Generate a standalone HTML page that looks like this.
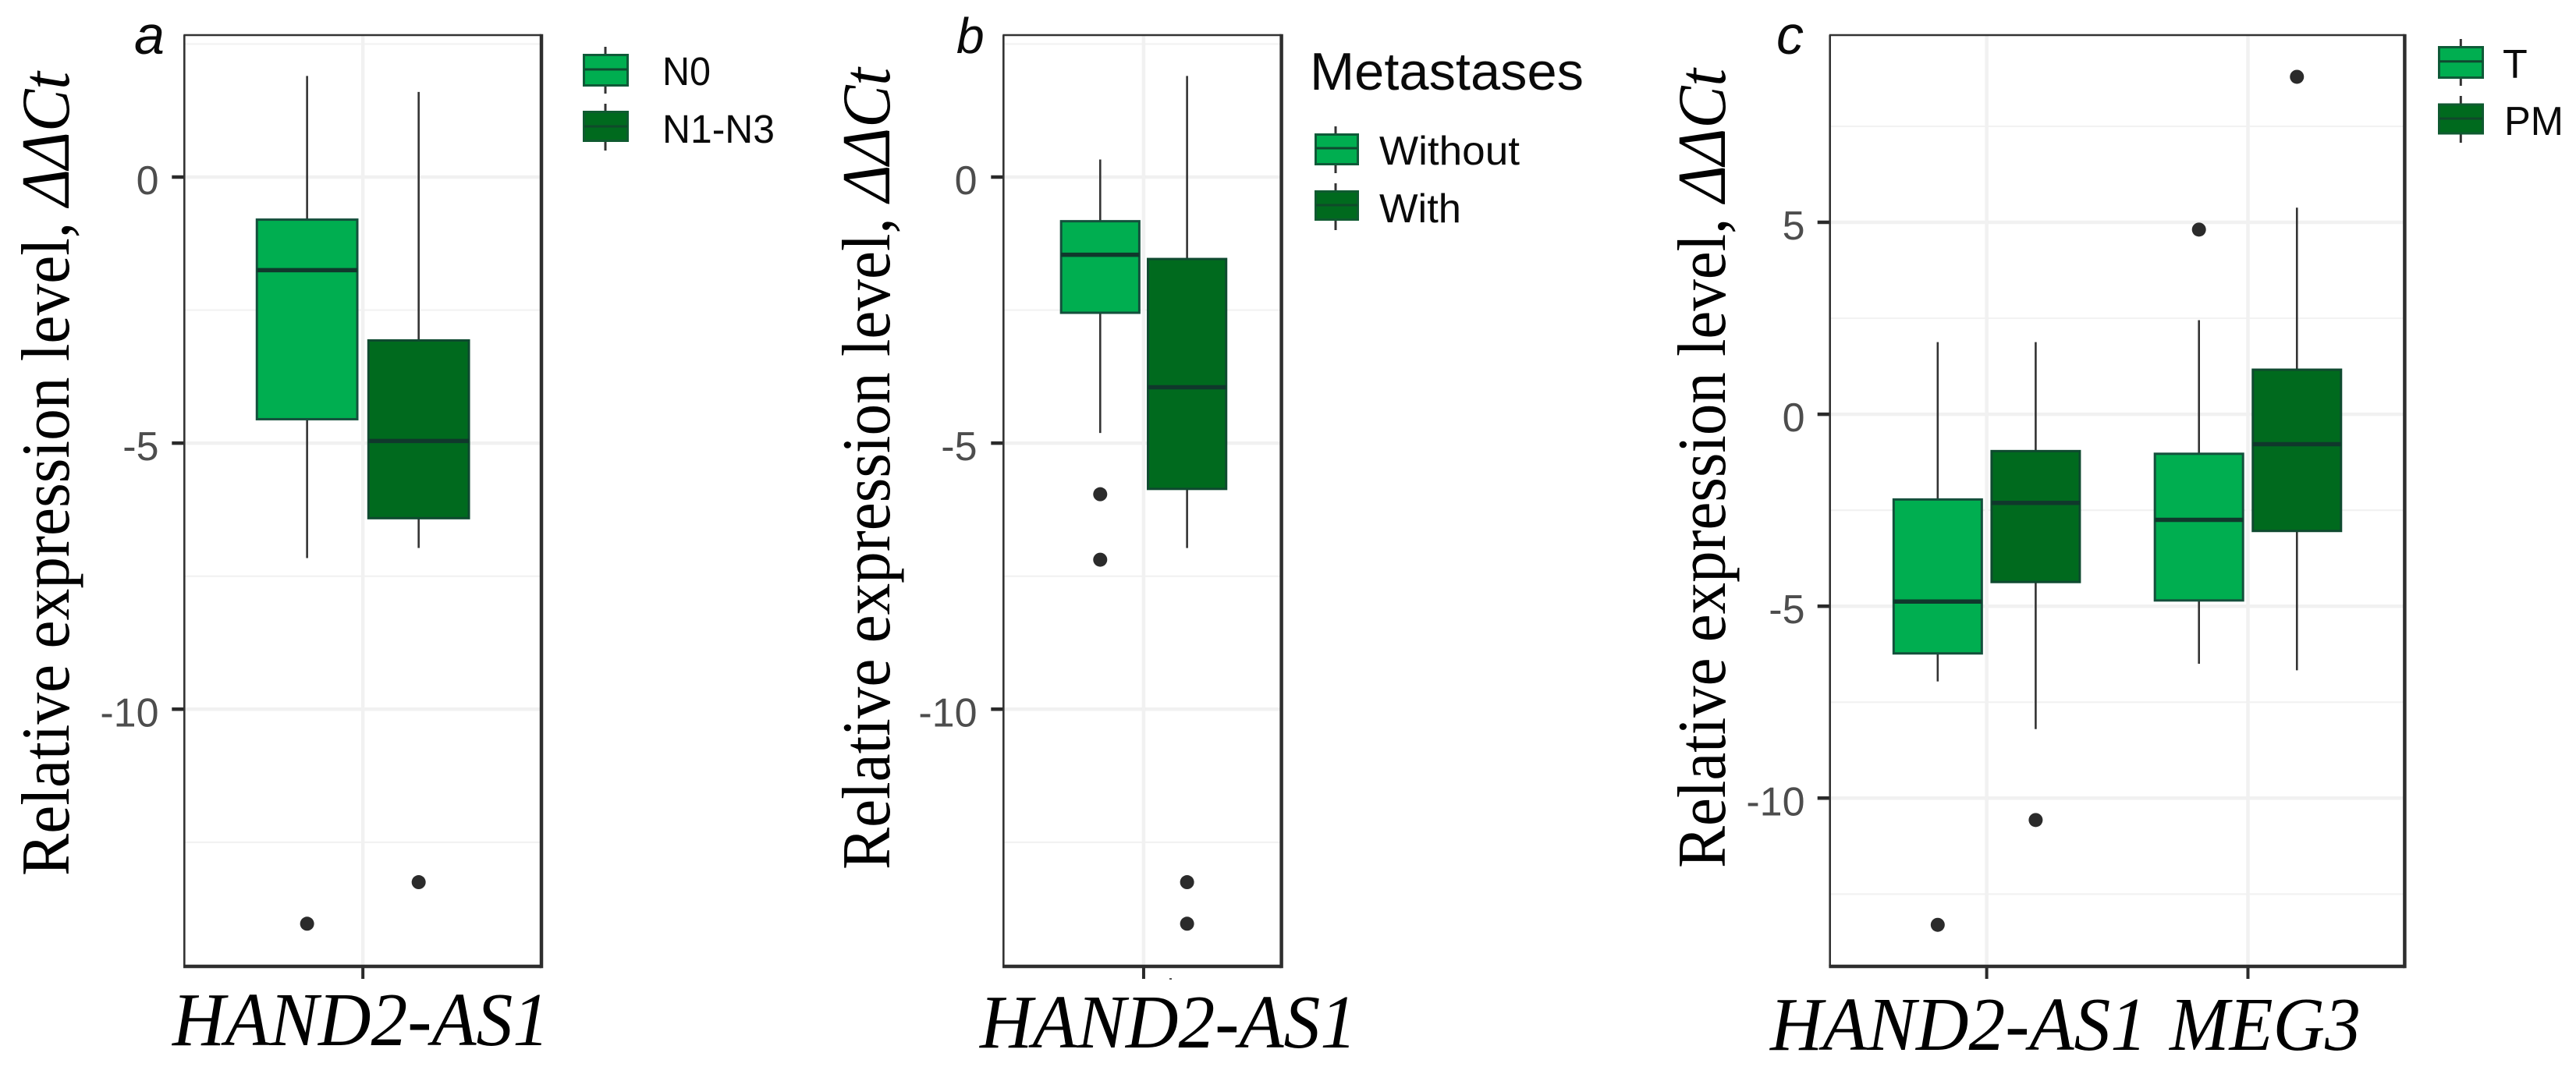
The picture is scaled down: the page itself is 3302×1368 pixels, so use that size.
<!DOCTYPE html>
<html lang="en">
<head>
<meta charset="utf-8">
<title>Relative expression level boxplots</title>
<style>
html,body{margin:0;padding:0;background:#fff;width:3302px;height:1368px;overflow:hidden}
svg{display:block}
.serif{font-family:"Liberation Serif",serif;fill:#000}
.sans{font-family:"Liberation Sans",sans-serif;fill:#0a0a0a}
</style>
</head>
<body>
<svg id="figure" xmlns="http://www.w3.org/2000/svg" width="3302" height="1368" viewBox="0 0 3302 1368">
  <rect x="0" y="0" width="3302" height="1368" fill="#fff"/>
  <g id="panels"></g>

  <text class="sans" font-style="italic" font-size="70" x="172" y="69">a</text>
  <text class="sans" font-style="italic" font-size="64" x="1226" y="68">b</text>
  <text class="sans" font-style="italic" font-size="70" x="2277" y="69">c</text>

  <text class="serif" font-size="88" transform="translate(88,1123) rotate(-90)" textLength="1031" lengthAdjust="spacingAndGlyphs">Relative expression level, <tspan font-style="italic">ΔΔCt</tspan></text>
  <text class="serif" font-size="88" transform="translate(1140,1115) rotate(-90)" textLength="1028" lengthAdjust="spacingAndGlyphs">Relative expression level, <tspan font-style="italic">ΔΔCt</tspan></text>
  <text class="serif" font-size="88" transform="translate(2211,1113) rotate(-90)" textLength="1025" lengthAdjust="spacingAndGlyphs">Relative expression level, <tspan font-style="italic">ΔΔCt</tspan></text>

  <text class="serif" font-style="italic" font-size="98" x="221" y="1340" textLength="483" lengthAdjust="spacingAndGlyphs">HAND2-AS1</text>
  <text class="serif" font-style="italic" font-size="98" x="1256" y="1343" textLength="483" lengthAdjust="spacingAndGlyphs">HAND2-AS1</text>
  <text class="serif" font-style="italic" font-size="98" x="2269" y="1346" textLength="483" lengthAdjust="spacingAndGlyphs">HAND2-AS1</text>
  <text class="serif" font-style="italic" font-size="98" x="2781" y="1346" textLength="245" lengthAdjust="spacingAndGlyphs">MEG3</text>

  <rect x="1499" y="1254" width="3" height="2" fill="#555"/>

  <g>
    <g>
      <line x1="776" x2="776" y1="60" y2="120" stroke="#333" stroke-width="3"/>
      <rect x="748.5" y="70.5" width="56" height="39" fill="#00ae50" stroke="#0f5a38" stroke-width="3"/>
      <line x1="749" x2="804" y1="89" y2="89" stroke="#0f4a30" stroke-width="3"/>
    </g>
    <text class="sans" font-size="51" x="849" y="109" textLength="62" lengthAdjust="spacingAndGlyphs">N0</text>
    <g>
      <line x1="776" x2="776" y1="133" y2="193" stroke="#333" stroke-width="3"/>
      <rect x="748.5" y="143.5" width="56" height="37" fill="#006a1e" stroke="#0f5a30" stroke-width="3"/>
      <line x1="749" x2="804" y1="162" y2="162" stroke="#0f4a2a" stroke-width="3"/>
    </g>
    <text class="sans" font-size="51" x="849" y="183" textLength="144" lengthAdjust="spacingAndGlyphs">N1-N3</text>
  </g>

  <g>
    <text class="sans" font-size="68" x="1679" y="115" textLength="351" lengthAdjust="spacingAndGlyphs">Metastases</text>
    <g>
      <line x1="1712" x2="1712" y1="162" y2="222" stroke="#333" stroke-width="3"/>
      <rect x="1686.5" y="172.5" width="54" height="38" fill="#00ae50" stroke="#0f5a38" stroke-width="3"/>
      <line x1="1687" x2="1740" y1="190" y2="190" stroke="#0f4a30" stroke-width="3"/>
    </g>
    <text class="sans" font-size="52" x="1768" y="211" textLength="180" lengthAdjust="spacingAndGlyphs">Without</text>
    <g>
      <line x1="1712" x2="1712" y1="235" y2="295" stroke="#333" stroke-width="3"/>
      <rect x="1686.5" y="245.5" width="54" height="36" fill="#006a1e" stroke="#0f5a30" stroke-width="3"/>
      <line x1="1687" x2="1740" y1="263" y2="263" stroke="#0f4a2a" stroke-width="3"/>
    </g>
    <text class="sans" font-size="52" x="1768" y="285" textLength="105" lengthAdjust="spacingAndGlyphs">With</text>
  </g>

  <g>
    <g>
      <line x1="3154.3" x2="3154.3" y1="50" y2="110" stroke="#333" stroke-width="3"/>
      <rect x="3126.5" y="60.5" width="56" height="39" fill="#00ae50" stroke="#0f5a38" stroke-width="3"/>
      <line x1="3127" x2="3182" y1="78.7" y2="78.7" stroke="#0f4a30" stroke-width="3"/>
    </g>
    <text class="sans" font-size="52" x="3208" y="100">T</text>
    <g>
      <line x1="3154.3" x2="3154.3" y1="123" y2="183" stroke="#333" stroke-width="3"/>
      <rect x="3126.5" y="134" width="56" height="37" fill="#006a1e" stroke="#0f5a30" stroke-width="3"/>
      <line x1="3127" x2="3182" y1="152" y2="152" stroke="#0f4a2a" stroke-width="3"/>
    </g>
    <text class="sans" font-size="52" x="3210" y="173" textLength="76" lengthAdjust="spacingAndGlyphs">PM</text>
  </g>
</svg>

<script>
// ---- Panel a data ----
const aCategories = ["HAND2-AS1"];
const aGroups = ["N0", "N1-N3"];
const aWhiskerHigh = [[1.9, 1.6]];
const aQ3 = [[-0.8, -3.07]];
const aMedian = [[-1.75, -4.96]];
const aQ1 = [[-4.55, -6.41]];
const aWhiskerLow = [[-7.16, -6.97]];
const aOutliers = [[[-14.03], [-13.25]]];
const aYTicks = [0, -5, -10];
const aYTickLabels = ["0", "-5", "-10"];
const aYMinor = [2.5, -2.5, -7.5, -12.5];

// ---- Panel b data ----
const bCategories = ["HAND2-AS1"];
const bGroups = ["Without", "With"];
const bWhiskerHigh = [[0.33, 1.9]];
const bQ3 = [[-0.83, -1.54]];
const bMedian = [[-1.46, -3.95]];
const bQ1 = [[-2.55, -5.86]];
const bWhiskerLow = [[-4.81, -6.97]];
const bOutliers = [[[-5.96, -7.19], [-13.25, -14.03]]];
const bYTicks = [0, -5, -10];
const bYTickLabels = ["0", "-5", "-10"];
const bYMinor = [2.5, -2.5, -7.5, -12.5];

// ---- Panel c data ----
const cCategories = ["HAND2-AS1", "MEG3"];
const cGroups = ["T", "PM"];
const cWhiskerHigh = [[1.88, 1.88], [2.45, 5.38]];
const cQ3 = [[-2.22, -0.96], [-1.03, 1.16]];
const cMedian = [[-4.88, -2.31], [-2.75, -0.78]];
const cQ1 = [[-6.23, -4.37], [-4.85, -3.04]];
const cWhiskerLow = [[-6.96, -8.2], [-6.5, -6.67]];
const cOutliers = [[[-13.3], [-10.57]], [[4.81], [8.79]]];
const cYTicks = [5, 0, -5, -10];
const cYTickLabels = ["5", "0", "-5", "-10"];
const cYMinor = [7.5, 2.5, -2.5, -7.5, -12.5];

const SVG_NS = "http://www.w3.org/2000/svg";
const groupFills = ["#00ae50", "#006a1e"];
const groupStrokes = ["#14503c", "#0f4a30"];

function mk(tag, attrs, parent) {
  const el = document.createElementNS(SVG_NS, tag);
  for (const k in attrs) el.setAttribute(k, attrs[k]);
  parent.appendChild(el);
  return el;
}

function drawPanel(id, geom, d) {
  const root = document.getElementById("panels");
  const g = mk("g", {}, root);
  
  

  // axis functions
  const yScale = v => geom.zeroY - geom.unitY * v;
  const unitX = (geom.right - geom.left) / (d.categories.length + 0.2);
  const xScale = pos => geom.left + (geom.centerShift || 0) + (pos + 0.6) * unitX;

  d.yMinor.forEach(v => {
    const ln = mk("line", {x1: geom.left, x2: geom.right, y1: yScale(v), y2: yScale(v), stroke: "#f2f2f2", "stroke-width": 2.2}, g);
    
    
  });
  d.yTicks.forEach(v => {
    const ln = mk("line", {x1: geom.left, x2: geom.right, y1: yScale(v), y2: yScale(v), stroke: "#f1f1f1", "stroke-width": 4.5}, g);
    
    
  });
  d.categories.forEach((c, i) => {
    const ln = mk("line", {x1: xScale(i), x2: xScale(i), y1: geom.top, y2: geom.bottom, stroke: "#f1f1f1", "stroke-width": 4.5}, g);
    
    
  });

  // boxes
  d.categories.forEach((c, i) => {
    d.groups.forEach((grp, j) => {
      const center = xScale(i + (j === 0 ? -0.1875 : 0.1875));
      const half = 0.16875 * unitX;
      const box = mk("g", {}, g);
      
      

      const wh = mk("line", {x1: center, x2: center, y1: yScale(d.whiskerHigh[i][j]), y2: yScale(d.q3[i][j]), stroke: "#333", "stroke-width": 2.6}, box);
      
      
      const wl = mk("line", {x1: center, x2: center, y1: yScale(d.q1[i][j]), y2: yScale(d.whiskerLow[i][j]), stroke: "#333", "stroke-width": 2.6}, box);
      
      

      const r = mk("rect", {x: center - half, y: yScale(d.q3[i][j]), width: 2 * half, height: yScale(d.q1[i][j]) - yScale(d.q3[i][j]), fill: groupFills[j], stroke: groupStrokes[j], "stroke-width": 3}, box);
      
      

      const m = mk("line", {x1: center - half, x2: center + half, y1: yScale(d.median[i][j]), y2: yScale(d.median[i][j]), stroke: "#10382c", "stroke-width": 5.5}, box);
      
      

      d.outliers[i][j].forEach(v => {
        const o = mk("circle", {cx: center, cy: yScale(v), r: 9, fill: "#2b2b2b"}, box);
        
        
      });
    });
  });

  // ticks and labels
  d.yTicks.forEach((v, i) => {
    const t = mk("line", {x1: geom.left - 16, x2: geom.left, y1: yScale(v), y2: yScale(v), stroke: "#2a2a2a", "stroke-width": 4.5}, g);
    
    
    const lb = mk("text", {x: geom.labelX, y: yScale(v) + geom.labelDy, "text-anchor": "end", "font-size": 52, "font-family": '"Liberation Sans", sans-serif', fill: "#4d4d4d"}, g);
    lb.textContent = d.yTickLabels[i];
    
    
  });
  d.categories.forEach((c, i) => {
    const t = mk("line", {x1: xScale(i), x2: xScale(i), y1: geom.bottom, y2: geom.bottom + 16, stroke: "#2a2a2a", "stroke-width": 4}, g);
    
    
  });

  // panel border: thin on top/left, heavy on right/bottom
  const topEdge = mk("line", {x1: geom.left - 1, x2: geom.right, y1: geom.top, y2: geom.top, stroke: "#333", "stroke-width": 2.6}, g);
  
  
  const leftEdge = mk("line", {x1: geom.left, x2: geom.left, y1: geom.top, y2: geom.bottom, stroke: "#333", "stroke-width": 2.6}, g);
  
  
  const rightEdge = mk("line", {x1: geom.right, x2: geom.right, y1: geom.top - 1.3, y2: geom.bottom + 2.2, stroke: "#2e2e2e", "stroke-width": 4.5}, g);
  
  
  const bottomEdge = mk("line", {x1: geom.left - 1.3, x2: geom.right, y1: geom.bottom, y2: geom.bottom, stroke: "#2e2e2e", "stroke-width": 4.5}, g);
  
  
}

drawPanel("a",
  {left: 236.3, right: 694, top: 45, bottom: 1239, zeroY: 227, unitY: 68.23, labelX: 203.5, labelDy: 22},
  {categories: aCategories, groups: aGroups, whiskerHigh: aWhiskerHigh, q3: aQ3, median: aMedian, q1: aQ1, whiskerLow: aWhiskerLow, outliers: aOutliers, yTicks: aYTicks, yTickLabels: aYTickLabels, yMinor: aYMinor});

drawPanel("b",
  {left: 1286.3, right: 1642.6, top: 45, bottom: 1239, zeroY: 227, unitY: 68.23, labelX: 1252.5, labelDy: 22, centerShift: 1.5},
  {categories: bCategories, groups: bGroups, whiskerHigh: bWhiskerHigh, q3: bQ3, median: bMedian, q1: bQ1, whiskerLow: bWhiskerLow, outliers: bOutliers, yTicks: bYTicks, yTickLabels: bYTickLabels, yMinor: bYMinor});

drawPanel("c",
  {left: 2345.7, right: 3082.4, top: 45, bottom: 1239, zeroY: 531.1, unitY: 49.22, labelX: 2313.5, labelDy: 22},
  {categories: cCategories, groups: cGroups, whiskerHigh: cWhiskerHigh, q3: cQ3, median: cMedian, q1: cQ1, whiskerLow: cWhiskerLow, outliers: cOutliers, yTicks: cYTicks, yTickLabels: cYTickLabels, yMinor: cYMinor});
</script>
</body>
</html>
